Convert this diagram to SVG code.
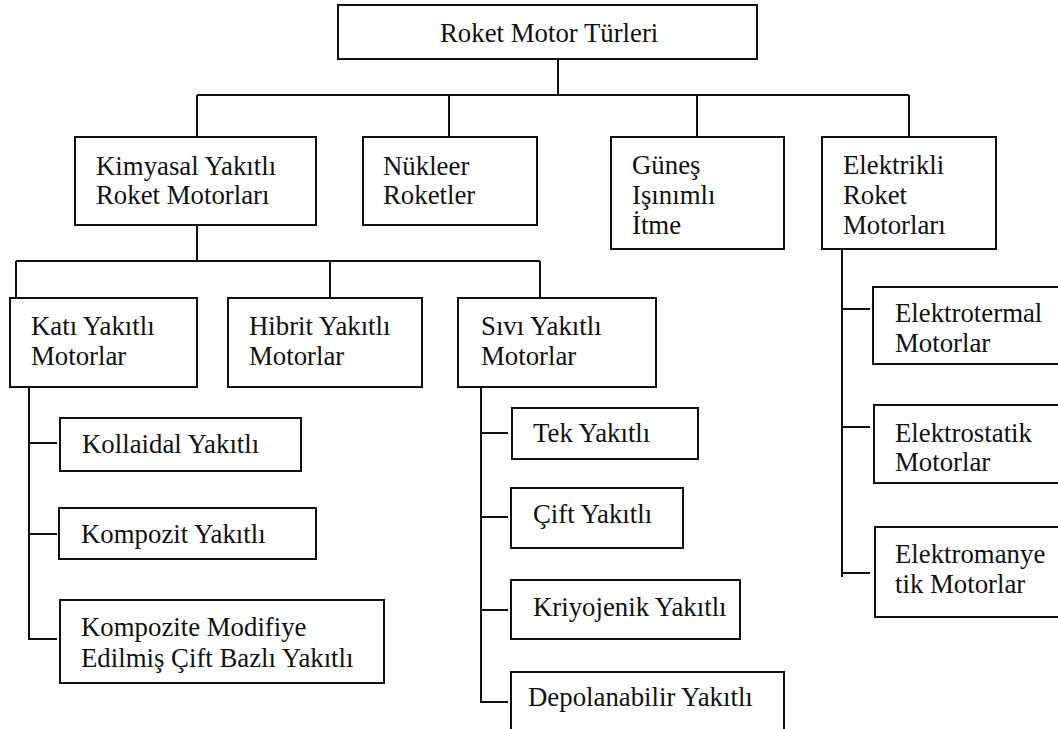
<svg xmlns="http://www.w3.org/2000/svg" width="1058" height="729" viewBox="0 0 1058 729">
  <style>
    .box { fill: #ffffff; stroke: #111111; stroke-width: 2; }
    .link { fill: none; stroke: #111111; stroke-width: 2; }
    text { font-family: "Liberation Serif", "Times New Roman", serif; font-size: 26.8px; fill: #111111; }
  </style>
  <rect width="1058" height="729" fill="#ffffff"/>

  <!-- connectors -->
  <g id="connectors" class="link">
    <!-- root to first level -->
    <path d="M558 59 V95"/>
    <path d="M197 95 H909"/>
    <path d="M197 95 V137 M449 95 V137 M697 95 V137 M909 95 V137"/>
    <!-- chemical to propellant types -->
    <path d="M197 225 V261"/>
    <path d="M16 261 H540"/>
    <path d="M16 261 V298 M330 261 V298 M540 261 V298"/>
    <!-- solid branch -->
    <path d="M29 387 V639 H57"/>
    <path d="M29 443 H57 M29 534 H57"/>
    <!-- liquid branch -->
    <path d="M481 386 V702 H508"/>
    <path d="M481 433 H508 M481 517 H508 M481 610 H508"/>
    <!-- electric branch -->
    <path d="M842 249 V577"/>
    <path d="M842 309 H870 M842 427 H870 M842 573 H870"/>
  </g>

  <g id="root">
    <rect class="box" x="338" y="5" width="419" height="54"/>
    <text x="440" y="42">Roket Motor Türleri</text>
  </g>

  <g id="kimyasal">
    <rect class="box" x="75" y="137" width="241" height="88"/>
    <text x="96" y="175">Kimyasal Yakıtlı</text>
    <text x="96" y="204">Roket Motorları</text>
  </g>

  <g id="nukleer">
    <rect class="box" x="363" y="137" width="174" height="88"/>
    <text x="383" y="175">Nükleer</text>
    <text x="383" y="204">Roketler</text>
  </g>

  <g id="gunes">
    <rect class="box" x="611" y="137" width="173" height="112"/>
    <text x="632" y="174">Güneş</text>
    <text x="632" y="204">Işınımlı</text>
    <text x="632" y="234">İtme</text>
  </g>

  <g id="elektrikli">
    <rect class="box" x="822" y="137" width="174" height="112"/>
    <text x="843" y="174">Elektrikli</text>
    <text x="843" y="204">Roket</text>
    <text x="843" y="234">Motorları</text>
  </g>

  <g id="kati">
    <rect class="box" x="10" y="298" width="187" height="89"/>
    <text x="31" y="335">Katı Yakıtlı</text>
    <text x="31" y="365">Motorlar</text>
  </g>

  <g id="hibrit">
    <rect class="box" x="228" y="298" width="194" height="89"/>
    <text x="249" y="335">Hibrit Yakıtlı</text>
    <text x="249" y="365">Motorlar</text>
  </g>

  <g id="sivi">
    <rect class="box" x="458" y="298" width="198" height="89"/>
    <text x="481" y="335">Sıvı Yakıtlı</text>
    <text x="481" y="365">Motorlar</text>
  </g>

  <g id="kollaidal">
    <rect class="box" x="60" y="418" width="241" height="53"/>
    <text x="82" y="453">Kollaidal Yakıtlı</text>
  </g>

  <g id="kompozit">
    <rect class="box" x="59" y="508" width="257" height="51"/>
    <text x="81" y="543">Kompozit Yakıtlı</text>
  </g>

  <g id="kompozite-modifiye">
    <rect class="box" x="60" y="600" width="324" height="83"/>
    <text x="81" y="636">Kompozite Modifiye</text>
    <text x="81" y="667">Edilmiş Çift Bazlı Yakıtlı</text>
  </g>

  <g id="tek">
    <rect class="box" x="512" y="408" width="186" height="51"/>
    <text x="533" y="442">Tek Yakıtlı</text>
  </g>

  <g id="cift">
    <rect class="box" x="511" y="488" width="172" height="60"/>
    <text x="533" y="523">Çift Yakıtlı</text>
  </g>

  <g id="kriyojenik">
    <rect class="box" x="511" y="580" width="229" height="59"/>
    <text x="533" y="616">Kriyojenik Yakıtlı</text>
  </g>

  <g id="depolanabilir">
    <rect class="box" x="511" y="672" width="273" height="70"/>
    <text x="528" y="706">Depolanabilir Yakıtlı</text>
  </g>

  <g id="elektrotermal">
    <rect class="box" x="873" y="287" width="200" height="77"/>
    <text x="895" y="322">Elektrotermal</text>
    <text x="895" y="352">Motorlar</text>
  </g>

  <g id="elektrostatik">
    <rect class="box" x="874" y="405" width="200" height="78"/>
    <text x="895" y="442">Elektrostatik</text>
    <text x="895" y="471">Motorlar</text>
  </g>

  <g id="elektromanyetik">
    <rect class="box" x="875" y="527" width="200" height="90"/>
    <text x="895" y="563">Elektromanye</text>
    <text x="895" y="593">tik Motorlar</text>
  </g>
</svg>
